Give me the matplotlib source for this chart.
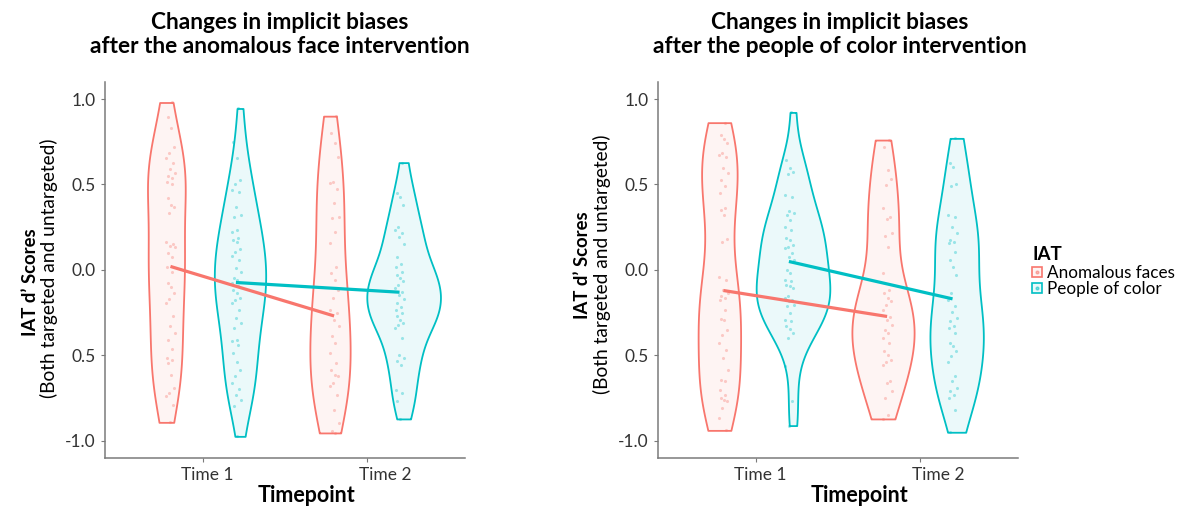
import numpy as np
import matplotlib
matplotlib.use("Agg")
import matplotlib.pyplot as plt
from matplotlib import cbook, mlab
from matplotlib.colors import to_rgba
from matplotlib.patches import Rectangle
from matplotlib.transforms import ScaledTranslation

plt.rcParams["font.family"] = ["Lato", "DejaVu Sans"]

#%% data
TIMES = ["Time 1", "Time 2"]
IAT_GROUPS = ["Anomalous faces", "People of color"]
Y_TICKS = [1.0, 0.5, 0.0, -0.5, -1.0]
Y_TICK_LABELS = ["1.0", "0.5", "0.0", "0.5", "-1.0"]

# anomalous face intervention
af_t1_anom = [0.98, 0.897, 0.832, 0.717, 0.686, 0.657, 0.624, 0.591, 0.565, 0.550, 0.536,
              0.517, 0.501, 0.419, 0.380, 0.367, 0.335, 0.166, 0.152, 0.140, 0.133, 0.101,
              0.078, 0.019, -0.010, -0.078, -0.101, -0.133, -0.171, -0.195, -0.273, -0.331,
              -0.370, -0.409, -0.464, -0.517, -0.530, -0.546, -0.618, -0.692, -0.721, -0.741,
              -0.789, -0.893]
af_t1_poc = [0.945, 0.750, 0.653, 0.526, 0.503, 0.468, 0.458, 0.370, 0.322, 0.312, 0.234,
             0.224, 0.185, 0.175, 0.166, 0.121, 0.107, 0.082, 0.058, 0.010, -0.010, -0.049,
             -0.058, -0.078, -0.097, -0.117, -0.136, -0.166, -0.179, -0.195, -0.234, -0.283,
             -0.312, -0.341, -0.409, -0.419, -0.439, -0.487, -0.542, -0.585, -0.624, -0.663,
             -0.698, -0.731, -0.760, -0.799, -0.975]
af_t2_anom = [0.900, 0.803, 0.741, 0.663, 0.517, 0.507, 0.472, 0.390, 0.312, 0.302, 0.224,
              0.156, 0.019, -0.019, -0.058, -0.117, -0.166, -0.234, -0.253, -0.292, -0.331,
              -0.390, -0.429, -0.487, -0.546, -0.585, -0.614, -0.624, -0.663, -0.682, -0.731,
              -0.819, -0.897, -0.945, -0.955]
af_t2_poc = [0.628, 0.448, 0.425, 0.380, 0.250, 0.234, 0.218, 0.195, 0.152, 0.078, 0.035,
             0.019, -0.010, -0.029, -0.049, -0.068, -0.088, -0.107, -0.127, -0.146, -0.171,
             -0.195, -0.218, -0.234, -0.253, -0.273, -0.292, -0.312, -0.322, -0.341, -0.400,
             -0.497, -0.517, -0.536, -0.556, -0.702, -0.721, -0.770, -0.873]
af_mean_anom = [0.02, -0.27]
af_mean_poc = [-0.074, -0.131]

# people of color intervention
pc_t1_anom = [0.862, 0.789, 0.764, 0.741, 0.686, 0.673, 0.659, 0.595, 0.565, 0.526, 0.491,
              0.452, 0.361, 0.351, 0.322, 0.179, 0.166, -0.043, -0.058, -0.117, -0.136, -0.156,
              -0.166, -0.175, -0.234, -0.288, -0.296, -0.351, -0.380, -0.429, -0.468, -0.517,
              -0.585, -0.643, -0.653, -0.702, -0.731, -0.750, -0.760, -0.770, -0.809, -0.867,
              -0.940]
pc_t1_poc = [0.922, 0.643, 0.595, 0.575, 0.561, 0.439, 0.429, 0.347, 0.331, 0.322, 0.292,
             0.253, 0.234, 0.185, 0.175, 0.146, 0.136, 0.127, 0.097, 0.078, 0.058, 0.0, -0.019,
             -0.058, -0.068, -0.088, -0.097, -0.107, -0.152, -0.166, -0.175, -0.185, -0.205,
             -0.214, -0.253, -0.292, -0.302, -0.331, -0.347, -0.370, -0.400, -0.565, -0.770,
             -0.912]
pc_t2_anom = [0.760, 0.721, 0.585, 0.530, 0.497, 0.361, 0.312, 0.296, 0.214, 0.199, 0.136,
              -0.016, -0.117, -0.136, -0.166, -0.185, -0.205, -0.234, -0.277, -0.292, -0.322,
              -0.351, -0.370, -0.400, -0.429, -0.478, -0.497, -0.526, -0.542, -0.556, -0.653,
              -0.663, -0.712, -0.750, -0.848, -0.873]
pc_t2_poc = [0.770, 0.628, 0.600, 0.503, 0.491, 0.322, 0.308, 0.253, 0.214, 0.175, 0.166,
             0.156, 0.107, 0.058, 0.019, -0.029, -0.136, -0.175, -0.214, -0.244, -0.283,
             -0.302, -0.331, -0.341, -0.370, -0.429, -0.448, -0.478, -0.507, -0.542, -0.624,
             -0.653, -0.692, -0.712, -0.731, -0.750, -0.819, -0.951]
pc_mean_anom = [-0.121, -0.273]
pc_mean_poc = [0.049, -0.170]

#%% styling
RED = "#F8766D"
TEAL = "#00BFC4"
W, H = 1180, 508
JITTER = [0.012, -0.018, 0.004, 0.024, -0.008, -0.026, 0.018, -0.002, 0.03, -0.014, 0.008, -0.022]


def kde(x, coords):
    # ggplot-like nrd0 bandwidth
    x = np.asarray(x)
    sd = x.std(ddof=1)
    iqr = np.subtract(*np.percentile(x, [75, 25]))
    bw = 0.9 * min(sd, iqr / 1.34) * len(x) ** -0.2
    return mlab.GaussianKDE(x, bw / sd).evaluate(coords)


def draw_panel(ax, series, means):
    stats = cbook.violin_stats([s[2] for s in series], kde, points=400)
    dmax = max(st["vals"].max() for st in stats)
    for (t, grp, vals), st in zip(series, stats):
        color = [RED, TEAL][grp]
        side = [-1, 1][grp]
        parts = ax.violin([st], positions=[t + side * 0.225],
                          widths=[0.45 * st["vals"].max() / dmax],
                          showextrema=False)
        for body in parts["bodies"]:
            body.set_alpha(None)
            body.set_facecolor(to_rgba(color, 0.08))
            body.set_edgecolor(color)
            body.set_linewidth(1.3)
            body.set_zorder(1)
        xs = [t + side * 0.2 + JITTER[i % len(JITTER)] for i in range(len(vals))]
        ax.scatter(xs, vals, s=5, color=color, alpha=0.35, linewidths=0, zorder=2)
    for grp, m in enumerate(means):
        side = [-1, 1][grp]
        ax.plot([1 + side * 0.2, 2 + side * 0.2], m, color=[RED, TEAL][grp], lw=2.3,
                solid_capstyle="butt", zorder=3)

    ax.set_xlim(0.4, 2.6)
    ax.set_ylim(-1.1, 1.1)
    ax.set_xticks([1, 2])
    ax.set_xticklabels(TIMES)
    ax.set_yticks(Y_TICKS)
    ax.set_yticklabels(Y_TICK_LABELS)
    for s in ["top", "right"]:
        ax.spines[s].set_visible(False)
    for s in ["left", "bottom"]:
        ax.spines[s].set_color("#7a7a7a")
        ax.spines[s].set_linewidth(1.1)
    ax.tick_params(length=3, color="#7a7a7a", labelsize=12.5, labelcolor="#333333", pad=4)
    # x labels sit a bit right of their ticks in the original
    for lab, dx in zip(ax.get_xticklabels(), [4, 18]):
        lab.set_transform(lab.get_transform() + ScaledTranslation(dx / 100, 0, ax.figure.dpi_scale_trans))


fig = plt.figure(figsize=(W / 100, H / 100), dpi=100)

panels = [
    (105, "Changes in implicit biases\nafter the anomalous face intervention", 280,
     [(1, 0, af_t1_anom), (1, 1, af_t1_poc), (2, 0, af_t2_anom), (2, 1, af_t2_poc)],
     [af_mean_anom, af_mean_poc], (30, 282), (49, 268)),
    (658, "Changes in implicit biases\nafter the people of color intervention", 840,
     [(1, 0, pc_t1_anom), (1, 1, pc_t1_poc), (2, 0, pc_t2_anom), (2, 1, pc_t2_poc)],
     [pc_mean_anom, pc_mean_poc], (583, 265), (602, 264)),
]

for left, title, tx, series, means, bold_pos, paren_pos in panels:
    ax = fig.add_axes([left / W, 1 - 457.7 / H, 360 / W, 375.7 / H])
    draw_panel(ax, series, means)
    fig.text(tx / W, 1 - 12 / H, title, ha="center", va="top", fontsize=16.3,
             fontweight="bold", linespacing=1.2)
    fig.text((left + 202) / W, 1 - 495 / H, "Timepoint", ha="center", va="center",
             fontsize=15.5, fontweight="bold")
    fig.text(bold_pos[0] / W, 1 - bold_pos[1] / H, "IAT d’ Scores", rotation=90,
             ha="center", va="center", fontsize=13.3, fontweight="bold")
    fig.text(paren_pos[0] / W, 1 - paren_pos[1] / H, "(Both targeted and untargeted)",
             rotation=90, ha="center", va="center", fontsize=13.8)

# legend, drawn by hand to get the tight ggplot key spacing
fig.text(1032 / W, 1 - 254 / H, "IAT", ha="left", va="center", fontsize=13.5, fontweight="bold")
for i, (label, color) in enumerate(zip(IAT_GROUPS, [RED, TEAL])):
    yc = 272 + i * 15.5
    fig.add_artist(Rectangle((1032 / W, 1 - (yc + 5) / H), 10 / W, 10 / H,
                             transform=fig.transFigure, facecolor=to_rgba(color, 0.08),
                             edgecolor=color, lw=1.2))
    fig.add_artist(plt.Line2D([1037 / W], [1 - yc / H], transform=fig.transFigure,
                              marker="o", ms=2, ls="", color=color, alpha=0.5))
    fig.text(1047 / W, 1 - yc / H, label, ha="left", va="center_baseline", fontsize=12.3)

fig.savefig("out.png", dpi=100)
